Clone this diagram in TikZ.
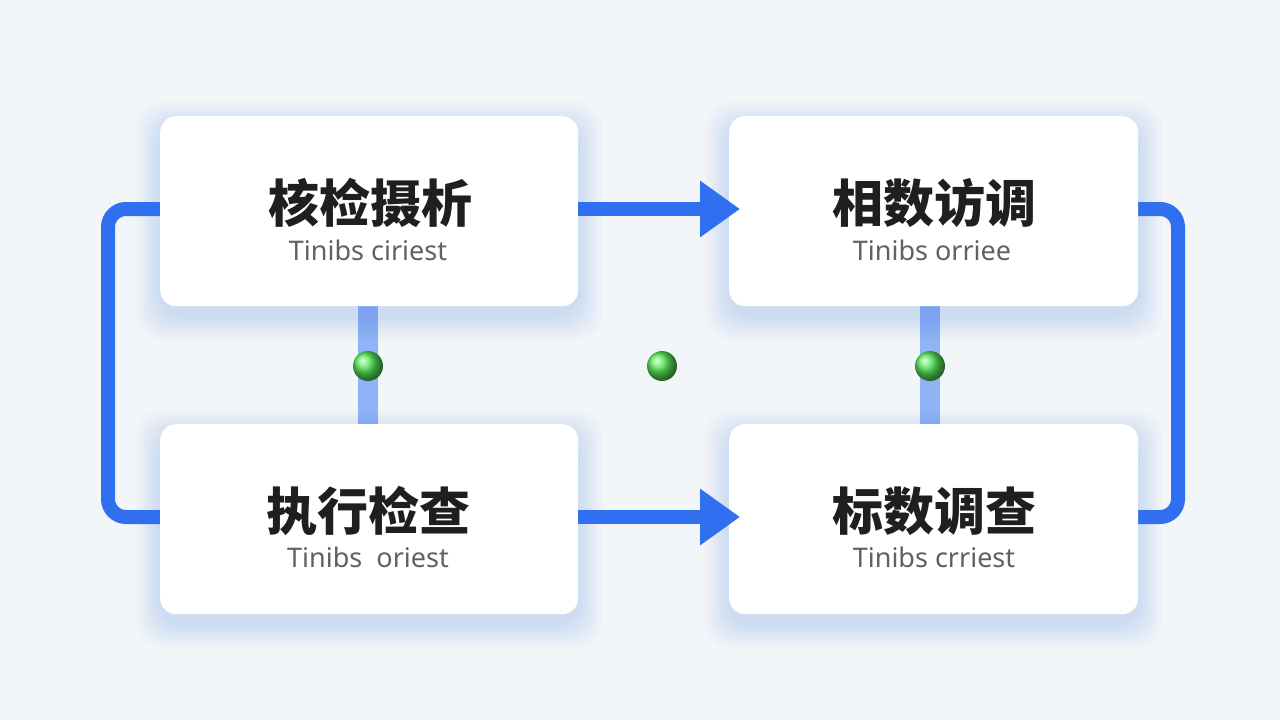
\documentclass[tikz,border=0pt]{standalone}
\usepackage{fontspec}
\setsansfont{Noto Sans}
\newfontfamily\cjk{Noto Sans CJK SC}
\usetikzlibrary{arrows.meta}
\definecolor{bg}{HTML}{F3F6F9}
\definecolor{blu}{HTML}{2F6FF0}
\definecolor{lblu}{HTML}{8FB3F5}
\definecolor{grn}{HTML}{55E855}
\begin{document}
\begin{tikzpicture}[x=1pt,y=-1pt,
  box/.style={draw=none,fill=white,rounded corners=16pt,minimum width=418pt,minimum height=190pt,anchor=north west,inner sep=0pt},
  glow/.style={fill=blu,opacity=0.025,rounded corners=26pt},
  ttl/.style={font=\cjk\bfseries\fontsize{51}{54}\selectfont,text=black!88},
  sub/.style={font=\sffamily\fontsize{27}{30}\selectfont,text=black!62},
  flow/.style={draw=blu,line width=14pt,rounded corners=18pt},
  arr/.style={draw=blu,line width=14pt,-{Triangle[length=40pt,width=54pt]}},
  vlink/.style={draw=lblu,line width=20pt},
  dot/.style={circle,minimum size=30pt,inner sep=0pt,ball color=grn,draw=none}]
\fill[bg] (0,0) rectangle (1280,720);
\useasboundingbox (0,0) rectangle (1280,720);
% vertical links
\coordinate (v1a) at (368,300); \coordinate (v1b) at (368,430);
\coordinate (v2a) at (930,300); \coordinate (v2b) at (930,430);
\draw[vlink] (v1a) -- (v1b);
\draw[vlink] (v2a) -- (v2b);
% loops
\coordinate (l1) at (165,209); \coordinate (l2) at (165,517);
\coordinate (r1) at (1133,209); \coordinate (r2) at (1133,517);
\draw[flow] (l1) -- (108,209) -- (108,517) -- (l2);
\draw[flow] (r1) -- (1178,209) -- (1178,517) -- (r2);
% glows
\foreach \x/\y/\w in {160/116/418,729/116/409,160/424/418,729/424/409}{
  \foreach \g in {2,5,8,11,14,17,20,24}{
    \fill[glow] (\x-\g,\y-\g+10) rectangle (\x+\w+\g,\y+190+\g+10);}}
% boxes
\node[box] (tl) at (160,116) {};
\node[box,minimum width=409pt] (tr) at (729,116) {};
\node[box] (bl) at (160,424) {};
\node[box,minimum width=409pt] (br) at (729,424) {};
\node[ttl] (tlt) at (370,203) {核检摄析};
\node[sub] (tls) at (368,250) {Tinibs ciriest};
\node[ttl] (trt) at (934,203) {相数访调};
\node[sub] (trs) at (932,250) {Tinibs orriee};
\node[ttl] (blt) at (368,511) {执行检查};
\node[sub] (bls) at (368,557) {Tinibs\ \ oriest};
\node[ttl] (brt) at (934,511) {标数调查};
\node[sub] (brs) at (934,557) {Tinibs crriest};
% arrows
\draw[arr] (tl.east |- 0,209) -- (740,209);
\draw[arr] (bl.east |- 0,517) -- (740,517);
% dots
\node[dot] (d1) at (368,366) {};
\node[dot] (d2) at (662,366) {};
\node[dot] (d3) at (930,366) {};
\end{tikzpicture}
\end{document}
